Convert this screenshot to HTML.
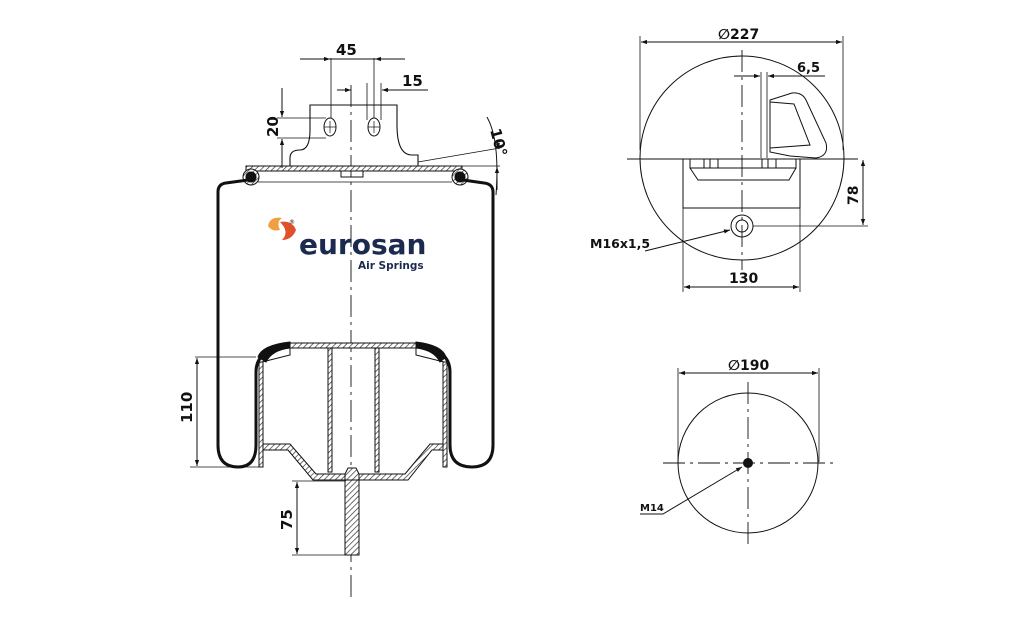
<!DOCTYPE html>
<html><head><meta charset="utf-8"><style>
html,body{margin:0;padding:0;background:#fff;}
svg{display:block;}
text{font-family:"DejaVu Sans","Liberation Sans",sans-serif;fill:#111;}
</style></head><body>
<svg width="1025" height="635" viewBox="0 0 1025 635" xmlns="http://www.w3.org/2000/svg">
<defs>
<pattern id="h" width="4" height="4" patternUnits="userSpaceOnUse" patternTransform="rotate(45)">
<rect width="4" height="4" fill="#fff"/><line x1="0" y1="0" x2="0" y2="4" stroke="#333" stroke-width="1.4"/></pattern>
<marker id="a" viewBox="0 0 10 10" refX="10" refY="5" markerWidth="9" markerHeight="6" orient="auto-start-reverse" markerUnits="userSpaceOnUse"><path d="M0,1.5 L10,5 L0,8.5z" fill="#111"/></marker>
</defs>
<g fill="none" stroke="#111" stroke-width="1">
<!-- centerline left -->
<line x1="351" y1="85" x2="351" y2="600" stroke-dasharray="22,5,3,5" stroke-width="0.9"/>
<!-- bracket -->
<path d="M290,168 L290,158 Q290,150 300,150 Q310,150 310,130 L310,105 L397,105 L397,125 Q397,155 412,155 L418,155 L418,168" stroke-width="1.1"/>
<ellipse cx="330" cy="127" rx="6" ry="9"/><ellipse cx="374" cy="127" rx="6" ry="9"/>
<line x1="324" y1="127" x2="336" y2="127" stroke-width="0.7"/><line x1="330" y1="121" x2="330" y2="133" stroke-width="0.7"/>
<line x1="368" y1="127" x2="380" y2="127" stroke-width="0.7"/><line x1="374" y1="121" x2="374" y2="133" stroke-width="0.7"/>
<!-- top plate -->
<rect x="246" y="166" width="216" height="5" fill="url(#h)"/>
<rect x="341" y="171" width="22" height="6"/>
<circle cx="251" cy="177" r="8" fill="url(#h)"/><circle cx="251" cy="177" r="5" fill="#111"/>
<circle cx="460" cy="177" r="8" fill="url(#h)"/><circle cx="460" cy="177" r="5" fill="#111"/>
<line x1="258" y1="182" x2="452" y2="182" stroke-width="0.8"/>
<!-- bellows -->
<path d="M248,180 L226,183 Q218,184 218,192 L218,445 Q218,467 238,467 Q256,467 256,445 L256,372 Q256,352 280,348 L290,345" stroke-width="3"/>
<path d="M463,180 L484,183 Q493,184 493,192 L493,445 Q493,467 472,467 Q450,467 450,445 L450,372 Q450,352 426,348 L416,345" stroke-width="3"/>
<path d="M258,357 Q262,345 290,342 L290,348 Q272,350 266,362 Z" fill="#111"/>
<path d="M446,357 Q442,345 416,342 L416,348 Q434,350 440,362 Z" fill="#111"/>
<!-- piston -->
<path d="M290,343 L416,343 L416,348 L290,348 Z" fill="url(#h)"/>
<path d="M262,362 L290,355 L290,348" />
<path d="M444,362 L416,355 L416,348"/>
<rect x="259" y="362" width="4" height="105" fill="url(#h)"/>
<rect x="443" y="362" width="4" height="105" fill="url(#h)"/>
<rect x="328" y="348" width="4" height="124" fill="url(#h)"/>
<rect x="375" y="348" width="4" height="124" fill="url(#h)"/>
<path d="M263,444 L290,444 L316,474 L405,474 L430,444 L443,444 L443,450 L432,450 L408,480 L313,480 L288,450 L263,450 Z" fill="url(#h)"/>
<path d="M345,480 L345,474 L348,468 L356,468 L359,474 L359,480 Z" fill="url(#h)"/>
<rect x="345" y="480" width="14" height="75" fill="url(#h)"/>
<!-- dims left -->
<line x1="195" y1="357" x2="256" y2="357" stroke-width="0.8"/>
<line x1="190" y1="467" x2="262" y2="467" stroke-width="0.8"/>
<line x1="197" y1="358" x2="197" y2="466" marker-start="url(#a)" marker-end="url(#a)"/>
<line x1="292" y1="481" x2="345" y2="481" stroke-width="0.8"/>
<line x1="292" y1="555" x2="345" y2="555" stroke-width="0.8"/>
<line x1="297" y1="482" x2="297" y2="554" marker-start="url(#a)" marker-end="url(#a)"/>
<line x1="300" y1="59" x2="330" y2="59" marker-end="url(#a)"/>
<line x1="405" y1="59" x2="375" y2="59" marker-end="url(#a)"/>
<line x1="330" y1="59" x2="375" y2="59"/>
<line x1="331" y1="58" x2="331" y2="118" stroke-width="0.8"/>
<line x1="374" y1="58" x2="374" y2="118" stroke-width="0.8"/>
<line x1="337" y1="90" x2="351" y2="90" marker-end="url(#a)"/>
<line x1="428" y1="90" x2="382" y2="90" marker-end="url(#a)"/>
<line x1="367" y1="83" x2="367" y2="120" stroke-width="0.8"/>
<line x1="381" y1="83" x2="381" y2="120" stroke-width="0.8"/>
<line x1="277" y1="118" x2="326" y2="118" stroke-width="0.8"/>
<line x1="277" y1="138" x2="326" y2="138" stroke-width="0.8"/>
<line x1="282" y1="88" x2="282" y2="117" marker-end="url(#a)"/>
<line x1="282" y1="168" x2="282" y2="139" marker-end="url(#a)"/>
<line x1="418" y1="166" x2="500" y2="166" stroke-width="0.8"/>
<line x1="418" y1="162" x2="500" y2="148" stroke-width="0.8"/>
<path d="M487,117 Q500,140 496,195" />
<line x1="497" y1="140" x2="499" y2="149" marker-end="url(#a)"/>
<line x1="497" y1="190" x2="497" y2="167" marker-end="url(#a)"/>
</g>
<text x="336" y="55" font-size="15" font-weight="bold">45</text>
<text x="402" y="86" font-size="15" font-weight="bold">15</text>
<text transform="translate(278,137) rotate(-90)" font-size="15" font-weight="bold">20</text>
<text transform="translate(192,423) rotate(-90)" font-size="15" font-weight="bold">110</text>
<text transform="translate(292,530) rotate(-90)" font-size="15" font-weight="bold">75</text>
<text transform="translate(490,130) rotate(75)" font-size="15" font-weight="bold">10°</text>
<!-- logo -->
<path d="M268,226 Q270,216 282,218 Q276,222 280,230 Q272,232 268,226Z" fill="#f0a040"/>
<path d="M280,222 Q292,220 296,230 Q292,240 282,240 Q290,232 280,222Z" fill="#e0502a"/>
<text x="289" y="224" font-size="6">®</text>
<text x="299" y="254" font-size="28" font-weight="bold" style="fill:#1b2a4e">eurosan</text>
<text x="358" y="269" font-size="10.5" font-weight="bold" style="fill:#1b2a4e">Air Springs</text>
<!-- top view -->
<g fill="none" stroke="#111" stroke-width="1">
<circle cx="742" cy="158" r="102"/>
<line x1="627" y1="159" x2="858" y2="159"/>
<line x1="742" y1="50" x2="742" y2="270" stroke-dasharray="22,5,3,5" stroke-width="0.9"/>
<rect x="683" y="159" width="117" height="49"/>
<path d="M690,159 L690,168 L796,168 L796,159 M690,168 L698,180 L789,180 L796,168"/>
<path d="M704,159 V168 M710,159 V168 M718,159 V168 M762,159 V168 M768,159 V168 M776,159 V168"/>
<circle cx="742" cy="226" r="11"/><circle cx="742" cy="226" r="6"/>
<path d="M770,100 L792,93 Q802,92 806,100 L826,143 Q829,156 816,158 L790,156 L770,152 Z"/>
<path d="M770,102 L794,104 L810,145 L770,148"/>
<line x1="761" y1="72" x2="761" y2="158" stroke-width="0.8"/>
<line x1="767" y1="72" x2="767" y2="158" stroke-width="0.8"/>
<line x1="734" y1="76" x2="760" y2="76" marker-end="url(#a)"/>
<line x1="825" y1="76" x2="768" y2="76" marker-end="url(#a)"/>
<line x1="640" y1="36" x2="640" y2="150" stroke-width="0.8"/>
<line x1="843" y1="36" x2="843" y2="150" stroke-width="0.8"/>
<line x1="641" y1="42" x2="842" y2="42" marker-start="url(#a)" marker-end="url(#a)"/>
<line x1="753" y1="226" x2="868" y2="226" stroke-width="0.8"/>
<line x1="863" y1="160" x2="863" y2="225" marker-start="url(#a)" marker-end="url(#a)"/>
<line x1="683" y1="208" x2="683" y2="292" stroke-width="0.8"/>
<line x1="800" y1="208" x2="800" y2="292" stroke-width="0.8"/>
<line x1="684" y1="287" x2="799" y2="287" marker-start="url(#a)" marker-end="url(#a)"/>
<polyline points="645,251 730,230" marker-end="url(#a)"/>
</g>
<text x="718" y="39" font-size="14" font-weight="bold">∅227</text>
<text x="797" y="72" font-size="13" font-weight="bold">6,5</text>
<text transform="translate(858,205) rotate(-90)" font-size="14" font-weight="bold">78</text>
<text x="729" y="283" font-size="14" font-weight="bold">130</text>
<text x="590" y="248" font-size="12.5" font-weight="bold">M16x1,5</text>
<!-- bottom view -->
<g fill="none" stroke="#111" stroke-width="1">
<circle cx="748" cy="463" r="70"/>
<line x1="663" y1="463" x2="836" y2="463" stroke-dasharray="22,5,3,5" stroke-width="0.9"/>
<line x1="748" y1="382" x2="748" y2="548" stroke-dasharray="22,5,3,5" stroke-width="0.9"/>
<line x1="678" y1="368" x2="678" y2="462" stroke-width="0.8"/>
<line x1="819" y1="368" x2="819" y2="462" stroke-width="0.8"/>
<line x1="679" y1="373" x2="818" y2="373" marker-start="url(#a)" marker-end="url(#a)"/>
<polyline points="640,514 663,514 742,467" marker-end="url(#a)"/>
</g>
<circle cx="748" cy="463" r="5" fill="#111"/>
<text x="728" y="370" font-size="14" font-weight="bold">∅190</text>
<text x="640" y="511" font-size="10" font-weight="bold">M14</text>
</svg>
</body></html>
